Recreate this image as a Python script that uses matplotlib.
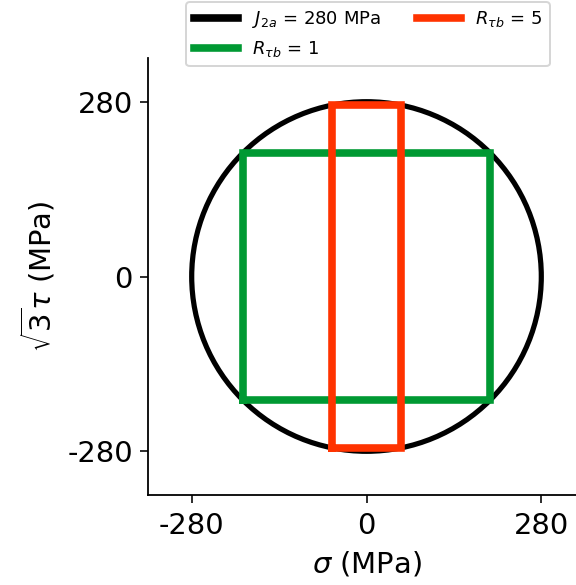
import matplotlib
matplotlib.use('Agg')
import matplotlib.pyplot as plt
from matplotlib.patches import Circle
from matplotlib.lines import Line2D

plt.rcParams['axes.unicode_minus'] = False

# J2 circle radius
j2a = 280
# half-widths (sigma) and half-heights (sqrt3 tau) of the two rectangles
rect_names = ['$R_{\\tau b}$ = 1', '$R_{\\tau b}$ = 5']
rect_sig = [198, 55]
rect_tau = [198, 275]
rect_colors = ['#009933', '#ff3300']

ticks = [-280, 0, 280]
tick_labels = ['-280', '0', '280']

fig = plt.figure(figsize=(4, 4.0625), dpi=144)
ax = fig.add_axes([148 / 576, 90 / 585, 437 / 576, 437 / 585])

circ = Circle((0, 0), j2a, fill=False, edgecolor='black', lw=2.6, zorder=1)
ax.add_patch(circ)

for i in range(len(rect_sig)):
    a = rect_sig[i]
    b = rect_tau[i]
    ax.plot([-a, a, a, -a, -a], [-b, -b, b, b, -b], color=rect_colors[i],
             lw=3.8, solid_joinstyle='miter', zorder=2 + i)

ax.set_xlim(-350, 350)
ax.set_ylim(-350, 350)
ax.set_xticks(ticks)
ax.set_xticklabels(tick_labels)
ax.set_yticks(ticks)
ax.set_yticklabels(tick_labels)
ax.tick_params(labelsize=14.5, length=4, width=0.8)
ax.tick_params(axis='x', pad=4.5)
for s in ['left', 'bottom']:
    ax.spines[s].set_linewidth(0.9)
ax.spines['top'].set_visible(False)
ax.spines['right'].set_visible(False)
ax.set_xlabel('$\\sigma$ (MPa)', fontsize=14.5, labelpad=5)
ax.set_ylabel('$\\sqrt{3}\\tau$ (MPa)', fontsize=14.5, labelpad=5)

handles = [Line2D([], [], color='black', lw=3.8),
           Line2D([], [], color=rect_colors[0], lw=3.8),
           Line2D([], [], color=rect_colors[1], lw=3.8)]
labels = ['$J_{2a}$ = 280 MPa'] + rect_names
fig.legend(handles, labels, loc='upper center', ncol=2, fontsize=9,
           handlelength=2.45, bbox_to_anchor=(368 / 576, 1 - 2 / 585),
           borderaxespad=0)

fig.savefig('out.png', dpi=144)
